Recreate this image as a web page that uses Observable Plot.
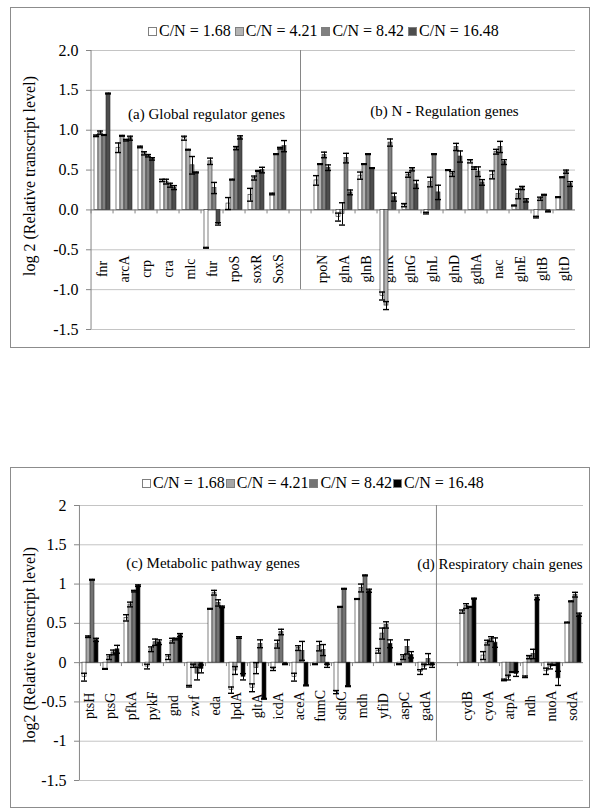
<!DOCTYPE html>
<html><head><meta charset="utf-8">
<script src="https://cdn.jsdelivr.net/npm/d3@7"></script>
<script src="https://cdn.jsdelivr.net/npm/@observablehq/plot@0.6"></script>
<style>
body{margin:0;background:#fff;font-family:"Liberation Serif","Times New Roman",serif;}
#page{position:relative;width:600px;height:810px;overflow:hidden;background:#fff;}
.box{position:absolute;border:1px solid #8c8c8c;box-sizing:border-box;z-index:3;pointer-events:none;}
.legend{position:absolute;display:flex;align-items:center;white-space:nowrap;color:#000;font-size:16px;line-height:18px;z-index:4;}
.legend .item{display:flex;align-items:center;}
.legend .sw{width:9px;height:9px;border:1px solid #7f7f7f;margin-right:2px;box-sizing:border-box;}
.chart{position:absolute;left:0;z-index:1;}
.ytitle{position:absolute;z-index:4;font-size:16px;line-height:18px;white-space:nowrap;color:#000;writing-mode:vertical-rl;transform:translate(-50%,-50%) rotate(180deg);}
</style></head>
<body><div id="page">
<div class="box" style="left:10px;top:7px;width:580px;height:341px"></div>
<div class="legend" id="legTop" style="left:148px;top:22px"></div>
<div class="chart" id="chartTop" style="top:40px"></div>
<div class="ytitle" id="yTitleTop" style="left:30px;top:176px"></div>
<div class="box" style="left:10px;top:467px;width:580px;height:341px"></div>
<div class="legend" id="legBottom" style="left:142px;top:474px"></div>
<div class="chart" id="chartBottom" style="top:495px"></div>
<div class="ytitle" id="yTitleBottom" style="left:30px;top:645px"></div>
</div>
<script>
const seriesLabels = ["C/N = 1.68", "C/N = 4.21", "C/N = 8.42", "C/N = 16.48"];
const colorsTop = ["#ffffff", "#b3b3b3", "#808080", "#4d4d4d"];
const colorsBottom = ["#ffffff", "#a6a6a6", "#737373", "#000000"];
const yTicks = [-1.5, -1, -0.5, 0, 0.5, 1, 1.5, 2];
const yTitleTop = "log 2 (Relative transcript level)";
const yTitleBottom = "log2 (Relative transcript level)";

// (a) Global regulator genes
const genesA = ["fnr", "arcA", "crp", "cra", "mlc", "fur", "rpoS", "soxR", "SoxS"];
const valuesA = [
  [0.93, 0.97, 0.94, 1.46],
  [0.78, 0.93, 0.875, 0.9],
  [0.79, 0.71, 0.68, 0.64],
  [0.37, 0.355, 0.31, 0.28],
  [0.9, 0.755, 0.56, 0.47],
  [-0.475, 0.61, 0.275, -0.175],
  [0.08, 0.38, 0.775, 0.91],
  [0.19, 0.4, 0.49, 0.5],
  [0.2, 0.7, 0.775, 0.8]
];
const errorsA = [
  [0.01, 0.02, 0.005, 0.005],
  [0.06, 0.005, 0.01, 0.025],
  [0.01, 0.02, 0.015, 0.015],
  [0.015, 0.03, 0.025, 0.025],
  [0.025, 0.005, 0.11, 0.005],
  [0.005, 0.04, 0.07, 0.015],
  [0.075, 0.005, 0.02, 0.02],
  [0.08, 0.025, 0.005, 0.035],
  [0.01, 0.005, 0.01, 0.07]
];

// (b) N - Regulation genes
const genesB = ["rpoN", "glnA", "glnB", "glnK", "glnG", "glnL", "glnD", "gdhA", "nac", "glnE", "gltB", "gltD"];
const valuesB = [
  [0.37, 0.575, 0.69, 0.53],
  [-0.09, -0.05, 0.65, 0.22],
  [0.43, 0.575, 0.7, 0.525],
  [-1.08, -1.2, 0.845, 0.16],
  [0.06, 0.44, 0.51, 0.32],
  [-0.04, 0.35, 0.7, 0.22],
  [0.5, 0.45, 0.79, 0.67],
  [0.61, 0.525, 0.48, 0.345],
  [0.44, 0.73, 0.79, 0.6],
  [0.055, 0.2, 0.275, 0.12],
  [-0.09, 0.14, 0.19, -0.02],
  [0.16, 0.41, 0.48, 0.325]
];
const errorsB = [
  [0.06, 0.005, 0.035, 0.035],
  [0.05, 0.14, 0.06, 0.03],
  [0.045, 0.005, 0.005, 0.005],
  [0.05, 0.05, 0.045, 0.05],
  [0.02, 0.03, 0.02, 0.05],
  [0.01, 0.06, 0.005, 0.09],
  [0.005, 0.03, 0.045, 0.07],
  [0.02, 0.015, 0.06, 0.035],
  [0.05, 0.03, 0.07, 0.03],
  [0.005, 0.06, 0.02, 0.02],
  [0.01, 0.02, 0.005, 0.005],
  [0.005, 0.005, 0.02, 0.03]
];

// (c) Metabolic pathway genes
const genesC = ["ptsH", "ptsG", "pfkA", "pykF", "gnd", "zwf", "eda", "lpdA", "gltA", "icdA", "aceA", "fumC", "sdhC", "mdh", "yfiD", "aspC", "gadA"];
const valuesC = [
  [-0.185, 0.33, 1.055, 0.29],
  [-0.08, 0.07, 0.13, 0.17],
  [0.57, 0.74, 0.91, 0.98],
  [-0.05, 0.17, 0.26, 0.26],
  [0.07, 0.28, 0.3, 0.35],
  [-0.3, -0.04, -0.14, -0.08],
  [0.685, 0.89, 0.76, 0.71],
  [-0.35, -0.1, 0.32, -0.18],
  [-0.32, -0.07, 0.24, -0.46],
  [-0.08, 0.235, 0.39, -0.02],
  [-0.185, 0.185, 0.15, -0.29],
  [-0.02, 0.21, 0.16, -0.04],
  [-0.375, 0.71, 0.94, -0.3],
  [0.81, 0.95, 1.11, 0.915],
  [0.15, 0.37, 0.48, 0.24],
  [-0.02, 0.07, 0.2, 0.1],
  [-0.12, -0.05, 0.045, -0.04]
];
const errorsC = [
  [0.05, 0.01, 0.005, 0.02],
  [0.005, 0.03, 0.03, 0.05],
  [0.04, 0.03, 0.01, 0.01],
  [0.03, 0.03, 0.04, 0.03],
  [0.03, 0.03, 0.01, 0.02],
  [0.01, 0.02, 0.08, 0.05],
  [0.005, 0.03, 0.04, 0.01],
  [0.04, 0.05, 0.01, 0.04],
  [0.05, 0.07, 0.05, 0.005],
  [0.02, 0.05, 0.035, 0.005],
  [0.05, 0.03, 0.12, 0.005],
  [0.005, 0.06, 0.07, 0.02],
  [0.02, 0.005, 0.005, 0.005],
  [0.005, 0.05, 0.005, 0.02],
  [0.03, 0.07, 0.04, 0.05],
  [0.005, 0.03, 0.09, 0.04],
  [0.03, 0.03, 0.07, 0.02]
];

// (d) Respiratory chain genes
const genesD = ["cydB", "cyoA", "atpA", "ndh", "nuoA", "sodA"];
const valuesD = [
  [0.65, 0.72, 0.71, 0.815],
  [0.09, 0.255, 0.3, 0.255],
  [-0.22, -0.19, -0.12, -0.145],
  [-0.18, 0.07, 0.11, 0.83],
  [-0.11, -0.05, -0.03, -0.2],
  [0.51, 0.78, 0.865, 0.61]
];
const errorsD = [
  [0.02, 0.03, 0.005, 0.005],
  [0.05, 0.03, 0.03, 0.06],
  [0.01, 0.03, 0.005, 0.03],
  [0.01, 0.02, 0.06, 0.03],
  [0.04, 0.03, 0.005, 0.09],
  [0.005, 0.005, 0.03, 0.02]
];

const FONT = "'Liberation Serif','Times New Roman',serif";
const SPACER = " ";
const GRAY = "#868686";

function rowsOf(genes, values, errors) {
  return genes.flatMap((g, i) => seriesLabels.map((s, j) => ({gene: g, series: s, value: values[i][j], err: errors[i][j]})));
}

function makeChart(cfg) {
  const width = 600, height = 300;
  const fxDomain = [...cfg.leftGenes, SPACER, ...cfg.rightGenes];
  const labelled = [...cfg.leftGenes, ...cfg.rightGenes];
  const rows = [...rowsOf(cfg.leftGenes, cfg.leftValues, cfg.leftErrors), ...rowsOf(cfg.rightGenes, cfg.rightValues, cfg.rightErrors)];
  const bw = (width - cfg.ml - cfg.mr) / fxDomain.length;
  return Plot.plot({
    width, height,
    marginTop: 10, marginBottom: cfg.mb, marginLeft: cfg.ml, marginRight: cfg.mr,
    style: {fontFamily: FONT, fontSize: "16px", background: "transparent", color: "#000"},
    fx: {domain: fxDomain, padding: 0, axis: null},
    x: {domain: seriesLabels, paddingInner: 0, paddingOuter: cfg.pad, axis: null},
    y: {domain: [-1.5, 2]},
    color: {domain: seriesLabels, range: cfg.colors},
    marks: [
      Plot.gridY(yTicks, {stroke: "#c4c4c4", strokeOpacity: 1}),
      Plot.ruleY([0], {stroke: GRAY}),
      Plot.ruleX(fxDomain, {fx: d => d, x: null, y1: 0, y2: -0.05, dx: -bw / 2, stroke: GRAY}),
      Plot.ruleX([fxDomain[0]], {fx: d => d, x: null, y1: -1.5, y2: 2, dx: -bw / 2, stroke: GRAY}),
      Plot.ruleX([SPACER], {fx: d => d, x: null, y1: -1, y2: 2, dx: cfg.divShift * bw, stroke: GRAY}),
      Plot.text(labelled, {fx: d => d, y: cfg.labelY, text: d => d, rotate: -90, fontSize: 14, fill: "#000"}),
      Plot.barY(rows, {fx: "gene", x: "series", y1: 0, y2: "value", fill: "series", stroke: "#2a2a2a", strokeWidth: 0.6}),
      Plot.ruleX(rows, {fx: "gene", x: "series", y1: d => d.value - d.err, y2: d => d.value + d.err, stroke: "#000", strokeWidth: 1}),
      Plot.tickY(rows, {fx: "gene", x: "series", y: d => d.value + d.err, insetLeft: -1, insetRight: -1, stroke: "#000", strokeWidth: 1.4}),
      Plot.tickY(rows, {fx: "gene", x: "series", y: d => d.value - d.err, insetLeft: -1, insetRight: -1, stroke: "#000", strokeWidth: 1.4}),
      ...cfg.titles.map(t => Plot.text([t.text], {fx: () => t.at, y: t.y, text: d => d, dx: t.dx, fontSize: 15, fill: "#000"})),
      Plot.axisY(yTicks, {
        anchor: "left", facetAnchor: "left",
        tickFormat: cfg.tickFormat, tickSize: 5, tickPadding: 8,
        stroke: GRAY, fill: "#000", label: null, fontSize: 16
      })
    ]
  });
}

function makeLegend(el, colors, gap) {
  seriesLabels.forEach((s, i) => {
    const item = document.createElement("div");
    item.className = "item";
    if (i < seriesLabels.length - 1) item.style.marginRight = gap + "px";
    const sw = document.createElement("span");
    sw.className = "sw";
    sw.style.background = colors[i];
    const tx = document.createElement("span");
    tx.textContent = s;
    item.appendChild(sw); item.appendChild(tx);
    el.appendChild(item);
  });
}

makeLegend(document.getElementById("legTop"), colorsTop, 4);
makeLegend(document.getElementById("legBottom"), colorsBottom, 1);
document.getElementById("yTitleTop").textContent = yTitleTop;
document.getElementById("yTitleBottom").textContent = yTitleBottom;

document.getElementById("chartTop").appendChild(makeChart({
  leftGenes: genesA, leftValues: valuesA, leftErrors: errorsA,
  rightGenes: genesB, rightValues: valuesB, rightErrors: errorsB,
  colors: colorsTop, ml: 81, mr: 15, mb: 11, pad: 0.5, divShift: 0,
  labelY: -0.74,
  tickFormat: d => d.toFixed(1),
  titles: [
    {text: "(a) Global regulator genes", at: "fur", y: 1.2, dx: -6},
    {text: "(b) N - Regulation genes", at: "glnL", y: 1.24, dx: 12}
  ]
}));

document.getElementById("chartBottom").appendChild(makeChart({
  leftGenes: genesC, leftValues: valuesC, leftErrors: errorsC,
  rightGenes: genesD, rightValues: valuesD, rightErrors: errorsD,
  colors: colorsBottom, ml: 77, mr: 16, mb: 15, pad: 0.42, divShift: -0.5,
  labelY: -0.55,
  tickFormat: d => String(d),
  titles: [
    {text: "(c) Metabolic pathway genes", at: "eda", y: 1.27, dx: -3},
    {text: "(d) Respiratory chain genes", at: "atpA", y: 1.25, dx: -10}
  ]
}));
</script>
</body></html>
